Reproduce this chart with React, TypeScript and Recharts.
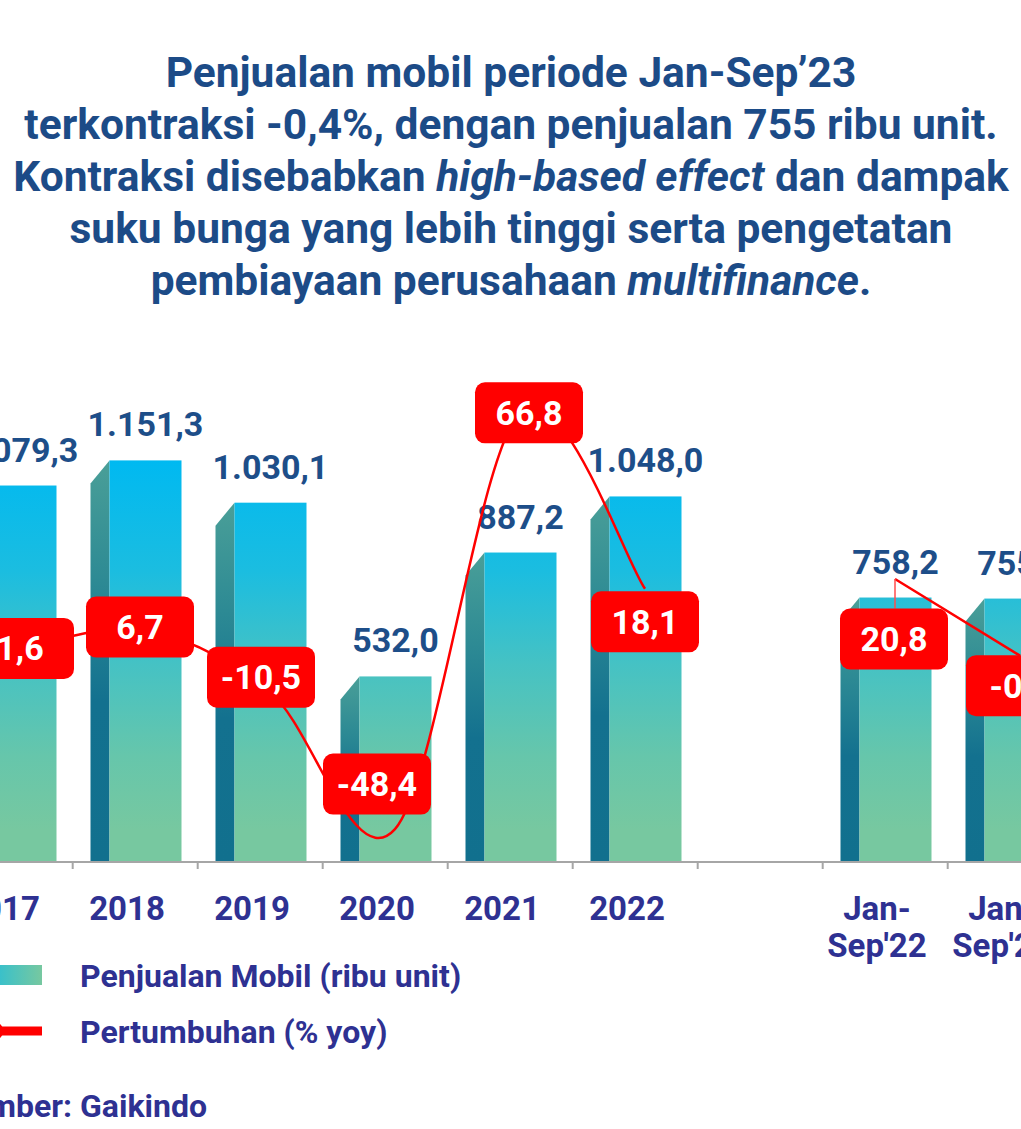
import React from 'react';
import { ComposedChart, Bar, Line, XAxis, YAxis } from 'recharts';

// ---------- data ----------
const categories = ['2017', '2018', '2019', '2020', '2021', '2022', '', "Jan-Sep'22", "Jan-Sep'23"];
const salesValues: (number | null)[] = [1079.3, 1151.3, 1030.1, 532.0, 887.2, 1048.0, null, 758.2, 755.2];
const growthValues: (number | null)[] = [1.6, 6.7, -10.5, -48.4, 66.8, 18.1, null, 20.8, -0.4];

const titleLines = [
  [{ t: 'Penjualan mobil periode Jan-Sep\u201923' }],
  [{ t: 'terkontraksi -0,4%, dengan penjualan 755 ribu unit.' }],
  [{ t: 'Kontraksi disebabkan ' }, { t: 'high-based effect', i: true }, { t: ' dan dampak' }],
  [{ t: 'suku bunga yang lebih tinggi serta pengetatan' }],
  [{ t: 'pembiayaan perusahaan ' }, { t: 'multifinance', i: true }, { t: '.' }],
];
const legendSales = 'Penjualan Mobil (ribu unit)';
const legendGrowth = 'Pertumbuhan (% yoy)';
const sourcePrefix = 'Sumber:\u00a0';
const sourceName = 'Gaikindo';

// ---------- layout (label placement offsets, not data) ----------
const growthLabelOffsets: ([number, number] | null)[] = [
  [0, 0], [-5, -3], [-9, -15], [-18, -45], [9, 0], [0, 33], null, [-1, 60], [0, 30],
];
const LEADER_INDEX = 7;

const W = 1021;
const H = 1129;
const CHART_LEFT = -100;
const PLOT_BOTTOM = 862;
const FONT = 'Roboto, "Noto Sans", sans-serif';
const TITLE_COLOR = '#1c4b87';
const AXIS_TEXT = '#2e3192';
const AXIS_GRAY = '#a6a6a6';

const data = categories.map((c, i) => ({
  cat: c,
  sales: salesValues[i],
  growth: growthValues[i],
}));

const fmt = (v: number) => {
  const neg = v < 0;
  const [intPart, dec] = Math.abs(v).toFixed(1).split('.');
  const withSep = intPart.replace(/\B(?=(\d{3})+(?!\d))/g, '.');
  return (neg ? '-' : '') + withSep + ',' + dec;
};

// Catmull-Rom style smoothing (like spreadsheet "smoothed line")
const smoothCurve: any = (context: any) => {
  let pts: [number, number][] = [];
  return {
    areaStart() {},
    areaEnd() {},
    lineStart() {
      pts = [];
    },
    point(x: number, y: number) {
      pts.push([+x, +y]);
    },
    lineEnd() {
      const n = pts.length;
      if (!n) return;
      context.moveTo(pts[0][0], pts[0][1]);
      if (n === 2) {
        context.lineTo(pts[1][0], pts[1][1]);
        return;
      }
      for (let i = 0; i < n - 1; i++) {
        const p0 = pts[Math.max(i - 1, 0)];
        const p1 = pts[i];
        const p2 = pts[i + 1];
        const p3 = pts[Math.min(i + 2, n - 1)];
        context.bezierCurveTo(
          p1[0] + (p2[0] - p0[0]) / 6,
          p1[1] + (p2[1] - p0[1]) / 6,
          p2[0] - (p3[0] - p1[0]) / 6,
          p2[1] - (p3[1] - p1[1]) / 6,
          p2[0],
          p2[1],
        );
      }
    },
  };
};

const BarShape = (props: any) => {
  const { x, y, width, height, index, value } = props;
  const v = Array.isArray(value) ? value[1] : value;
  if (v == null || !height || height <= 0) return <g />;
  const sideW = 19;
  const drop = 23;
  const fid = `front-${index}`;
  const sid = `side-${index}`;
  return (
    <g>
      <defs>
        <linearGradient id={fid} gradientUnits="userSpaceOnUse" x1="0" y1="460" x2="0" y2="830">
          <stop offset="0" stopColor="#00b9f1" />
          <stop offset="0.3" stopColor="#1bbde0" />
          <stop offset="0.55" stopColor="#45c2c4" />
          <stop offset="0.8" stopColor="#66c6ab" />
          <stop offset="1" stopColor="#77c8a0" />
        </linearGradient>
        <linearGradient id={sid} x1="0" y1="0" x2="0" y2="1">
          <stop offset="0" stopColor="#4a9f98" />
          <stop offset="0.3" stopColor="#2d8a94" />
          <stop offset="0.6" stopColor="#13718f" />
          <stop offset="1" stopColor="#11708e" />
        </linearGradient>
      </defs>
      <polygon
        points={`${x - sideW},${y + drop} ${x},${y} ${x},${y + height} ${x - sideW},${y + height}`}
        fill={`url(#${sid})`}
      />
      <rect x={x} y={y} width={width} height={height} fill={`url(#${fid})`} />
      <text
        x={x + width / 2}
        y={y - 24}
        textAnchor="middle"
        fontFamily={FONT}
        fontWeight={700}
        fontSize={34}
        fill="#1d4e89"
      >
        {fmt(v)}
      </text>
    </g>
  );
};

const GrowthLabel = (props: any) => {
  const { cx, cy, index, value } = props;
  const off = growthLabelOffsets[index];
  const v = Array.isArray(value) ? value[1] : value;
  if (cx == null || cy == null || v == null || !off) return <g key={`gl-${index}`} />;
  const bw = 108;
  const bh = 61;
  const bx = cx + off[0];
  const by = cy + off[1];
  return (
    <g key={`gl-${index}`}>
      {index === LEADER_INDEX && (
        <line x1={cx} y1={cy} x2={cx} y2={by - bh / 2} stroke="#ff4d4d" strokeWidth={1.5} />
      )}
      <rect x={bx - bw / 2} y={by - bh / 2} width={bw} height={bh} rx={10} ry={10} fill="#ff0000" />
      <text
        x={bx}
        y={by + 12}
        textAnchor="middle"
        fontFamily={FONT}
        fontWeight={700}
        fontSize={34}
        fill="#ffffff"
      >
        {fmt(v)}
      </text>
    </g>
  );
};

const XTick = (props: any) => {
  const { x, payload } = props;
  const label: string = payload?.value ?? '';
  const m = label.match(/^([A-Za-z]+-)(.+)$/);
  const lines = m ? [m[1], m[2]] : [label];
  const tx = x - 18;
  return (
    <g>
      <line x1={x - 72.3} y1={PLOT_BOTTOM} x2={x - 72.3} y2={PLOT_BOTTOM + 7} stroke={AXIS_GRAY} strokeWidth={2} />
      <text textAnchor="middle" fontFamily={FONT} fontWeight={700} fontSize={33} fill={AXIS_TEXT}>
        {lines.map((l, i) => (
          <tspan key={i} x={tx} y={PLOT_BOTTOM + 58 + i * 37}>
            {l}
          </tspan>
        ))}
      </text>
    </g>
  );
};

export default function App() {
  return (
    <div
      style={{
        position: 'absolute',
        left: 0,
        top: 0,
        width: W,
        height: H,
        overflow: 'hidden',
        background: '#ffffff',
      }}
    >
      <div style={{ position: 'absolute', left: CHART_LEFT, top: 0 }}>
        <ComposedChart
          width={1202.5}
          height={H}
          data={data}
          margin={{ top: 374, right: 20, bottom: 207, left: 57.5 }}
          barCategoryGap={0}
        >
          <XAxis
            dataKey="cat"
            height={60}
            axisLine={{ stroke: AXIS_GRAY, strokeWidth: 2 }}
            tickLine={false}
            tick={<XTick />}
            interval={0}
          />
          <YAxis yAxisId="sales" hide domain={[0, 1399]} allowDataOverflow type="number" />
          <YAxis
            yAxisId="growth"
            orientation="right"
            hide
            domain={[-57.51, 77.55]}
            allowDataOverflow
            type="number"
          />
          <Bar
            yAxisId="sales"
            dataKey="sales"
            barSize={72}
            shape={<BarShape />}
            isAnimationActive={false}
          />
          <Line
            yAxisId="growth"
            dataKey="growth"
            type={smoothCurve}
            stroke="#ff0000"
            strokeWidth={2.5}
            dot={(p: any) => <GrowthLabel key={`d-${p.index}`} {...p} />}
            activeDot={false}
            connectNulls={false}
            isAnimationActive={false}
          />
        </ComposedChart>
      </div>

      <svg
        width={W}
        height={H}
        style={{ position: 'absolute', left: 0, top: 0, pointerEvents: 'none' }}
      >
        <defs>
          <linearGradient id="legendSwatch" x1="0" y1="0" x2="1" y2="0">
            <stop offset="0" stopColor="#00b9f1" />
            <stop offset="1" stopColor="#77c8a0" />
          </linearGradient>
        </defs>
        {titleLines.map((line, li) => (
          <text
            key={li}
            x={511}
            y={87 + li * 52}
            textAnchor="middle"
            fontFamily={FONT}
            fontWeight={700}
            fontSize={42.5}
            fill={TITLE_COLOR}
          >
            {line.map((seg: any, si) => (
              <tspan key={si} fontStyle={seg.i ? 'italic' : 'normal'}>
                {seg.t}
              </tspan>
            ))}
          </text>
        ))}

        <rect x={-40} y={965} width={82} height={20} fill="url(#legendSwatch)" />
        <text x={80} y={987} fontFamily={FONT} fontWeight={700} fontSize={32} fill={AXIS_TEXT}>
          {legendSales}
        </text>

        <line x1={-40} y1={1031} x2={42} y2={1031} stroke="#ff0000" strokeWidth={9} />
        <circle cx={-5} cy={1031} r={8.5} fill="#ff0000" />
        <text x={80} y={1043} fontFamily={FONT} fontWeight={700} fontSize={32} fill={AXIS_TEXT}>
          {legendGrowth}
        </text>

        <text x={80} y={1117} fontFamily={FONT} fontWeight={700} fontSize={32} fill={AXIS_TEXT}>
          <tspan textAnchor="end">{sourcePrefix}</tspan>
        </text>
        <text x={80} y={1117} fontFamily={FONT} fontWeight={700} fontSize={32} fill={AXIS_TEXT}>
          {sourceName}
        </text>
      </svg>
    </div>
  );
}
